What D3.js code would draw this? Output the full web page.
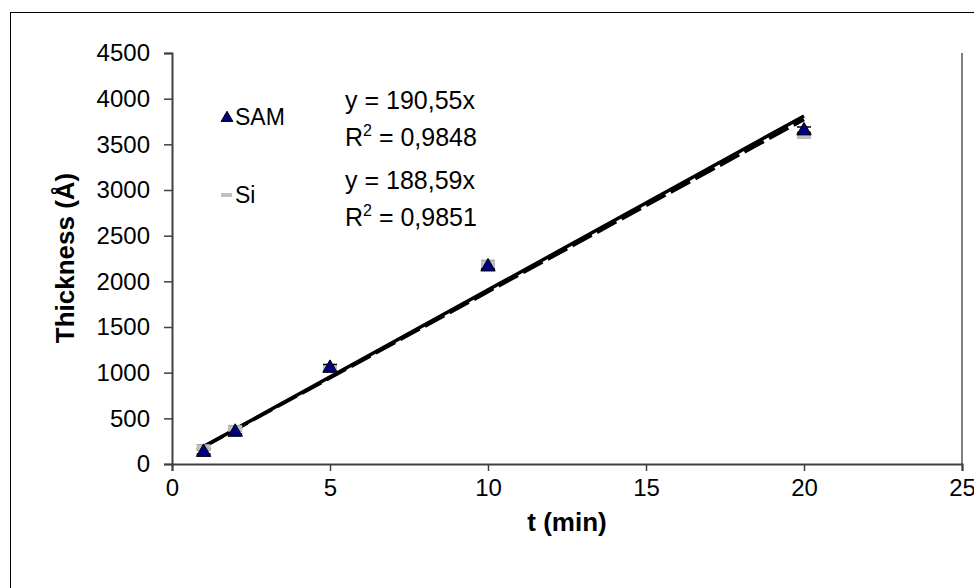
<!DOCTYPE html>
<html>
<head>
<meta charset="utf-8">
<script src="https://cdn.jsdelivr.net/npm/d3@7"></script>
<style>
  body { margin: 0; background: #fff; }
  text { font-family: "Liberation Sans", Arial, sans-serif; }
</style>
</head>
<body>
<svg id="chart"></svg>
<script>
/*chart data*/
const times = [1, 2, 5, 10, 20];
const samThickness = [140, 360, 1060, 2170, 3660];
const samError = [30, 30, 30, 30, 30];
const siThickness = [180, 390, 1050, 2200, 3600];
const siError = [30, 30, 30, 30, 30];
const samSlope = 190.55;
const siSlope = 188.59;
const xTicks = [0, 5, 10, 15, 20, 25];
const yTicks = [0, 500, 1000, 1500, 2000, 2500, 3000, 3500, 4000, 4500];

const width = 974;
const height = 588;
const fontFamily = "'Liberation Sans', Arial, sans-serif";

const svg = d3.select("#chart").attr("width", width).attr("height", height);

/*outer chart border (runs off the right and bottom of the picture)*/
svg.append("rect")
  .attr("x", 10.5).attr("y", 12.5)
  .attr("width", 1000).attr("height", 600)
  .attr("fill", "#fff").attr("stroke", "#000").attr("stroke-width", 1);

const x = d3.scaleLinear().domain([0, 25]).range([172, 962]);
const y = d3.scaleLinear().domain([0, 4500]).range([464, 53]);

/*plot area right edge*/
svg.append("line")
  .attr("x1", 962).attr("x2", 962).attr("y1", y(4500)).attr("y2", y(0))
  .attr("stroke", "#808080").attr("stroke-width", 2);

/*axes*/
const xAxis = svg.append("g")
  .attr("transform", "translate(0," + y(0) + ")")
  .call(d3.axisBottom(x).tickValues(xTicks).tickSize(7).tickPadding(8).tickFormat(d3.format("d")));
const yAxis = svg.append("g")
  .attr("transform", "translate(" + x(0) + ",0)")
  .call(d3.axisLeft(y).tickValues(yTicks).tickSize(8).tickPadding(14).tickFormat(d3.format("d")));

[xAxis, yAxis].forEach(function(g){
  g.attr("font-size", 24).attr("font-family", fontFamily);
  g.select(".domain").attr("stroke", "#404040").attr("stroke-width", 2);
  g.selectAll(".tick line").attr("stroke", "#404040").attr("stroke-width", 1.5);
  g.selectAll(".tick text").attr("fill", "#000");
});

/*axis titles*/
svg.append("text")
  .attr("x", 567).attr("y", 531)
  .attr("text-anchor", "middle")
  .attr("font-size", 26).attr("font-weight", "bold")
  .text("t (min)");
svg.append("text")
  .attr("transform", "translate(74,258) rotate(-90)")
  .attr("text-anchor", "middle")
  .attr("font-size", 26).attr("font-weight", "bold")
  .text("Thickness (Å)");

/*trend lines*/
const first = times[0], last = times[times.length - 1];
svg.append("line")
  .attr("x1", x(first)).attr("y1", y(siSlope * first))
  .attr("x2", x(last)).attr("y2", y(siSlope * last))
  .attr("stroke", "#000").attr("stroke-width", 3.5)
  .attr("stroke-dasharray", "22,6");
svg.append("line")
  .attr("x1", x(first)).attr("y1", y(samSlope * first))
  .attr("x2", x(last)).attr("y2", y(samSlope * last))
  .attr("stroke", "#000").attr("stroke-width", 3.5);

/*error bars + markers*/
function errorBars(values, errs, color){
  const g = svg.append("g");
  times.forEach(function(t, i){
    const cx = x(t);
    [values[i] - errs[i], values[i] + errs[i]].forEach(function(v){
      g.append("line")
        .attr("x1", cx - 7).attr("x2", cx + 7)
        .attr("y1", y(v)).attr("y2", y(v))
        .attr("stroke", color).attr("stroke-width", 1.5);
    });
    g.append("line")
      .attr("x1", cx).attr("x2", cx)
      .attr("y1", y(values[i] - errs[i])).attr("y2", y(values[i] + errs[i]))
      .attr("stroke", color).attr("stroke-width", 1.5);
  });
}
errorBars(siThickness, siError, "#a0a0a0");
errorBars(samThickness, samError, "#000");

const tri = d3.symbol().type(d3.symbolTriangle).size(90);

svg.append("g").selectAll("rect")
  .data(times)
  .enter()
  .append("rect")
  .attr("x", (d)=>x(d) - 7)
  .attr("y", (d,i)=>y(siThickness[i]) - 2.5)
  .attr("width", 14).attr("height", 5)
  .attr("fill", "#c0c0c0");

svg.append("g").selectAll("path")
  .data(times)
  .enter()
  .append("path")
  .attr("d", tri)
  .attr("transform", (d,i)=>"translate(" + x(d) + "," + (y(samThickness[i]) + 1) + ")")
  .attr("fill", "#000080").attr("stroke", "#000").attr("stroke-width", 1);

/*legend*/
svg.append("path")
  .attr("d", d3.symbol().type(d3.symbolTriangle).size(60))
  .attr("transform", "translate(227,118)")
  .attr("fill", "#000080").attr("stroke", "#000").attr("stroke-width", 1);
svg.append("text").attr("x", 235).attr("y", 125).attr("font-size", 23).text("SAM");
svg.append("rect")
  .attr("x", 221).attr("y", 193).attr("width", 11).attr("height", 4)
  .attr("fill", "#c0c0c0");
svg.append("text").attr("x", 235).attr("y", 203).attr("font-size", 23).text("Si");

/*equations*/
function equation(slope, r2, yTop){
  svg.append("text").attr("x", 345).attr("y", yTop).attr("font-size", 25)
    .text("y = " + slope.toFixed(2).replace(".", ",") + "x");
  const t = svg.append("text").attr("x", 345).attr("y", yTop + 37).attr("font-size", 25);
  t.append("tspan").text("R");
  t.append("tspan").attr("font-size", 16).attr("dy", -10).text("2");
  t.append("tspan").attr("dy", 10).text(" = " + r2);
}
equation(samSlope, "0,9848", 109);
equation(siSlope, "0,9851", 189);
</script>
</body>
</html>
